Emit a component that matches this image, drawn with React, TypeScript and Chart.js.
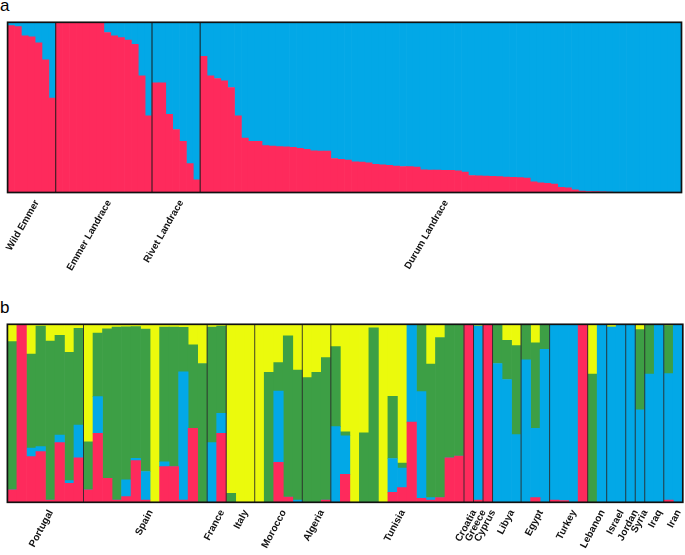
import React, { useEffect, useRef } from "react";
import { Chart, registerables } from "chart.js";

Chart.register(...registerables);

const RED = "#FE2A5C";
const BLUE = "#02A8E7";
const GREEN = "#3D9F45";
const YELLOW = "#EBFA0C";

// ---------- Panel a ----------
const groupNamesA = ["Wild Emmer", "Emmer Landrace", "Rivet Landrace", "Durum Landrace"];
const groupSizesA = [7, 14, 7, 70];

const redA = [
  // Wild Emmer
  0.98, 0.975, 0.92, 0.915, 0.88, 0.78, 0.555,
  // Emmer Landrace
  1, 1, 1, 1, 1, 1, 1, 0.94, 0.92, 0.91, 0.895, 0.87, 0.685, 0.45,
  // Rivet Landrace
  0.645, 0.645, 0.46, 0.37, 0.3, 0.17, 0.075,
  // Durum Landrace
  0.8, 0.685, 0.67, 0.656, 0.617, 0.45, 0.32, 0.3, 0.3, 0.275,
  0.273, 0.27, 0.268, 0.265, 0.26, 0.254, 0.245, 0.244, 0.243, 0.2,
  0.195, 0.19, 0.18, 0.178, 0.175, 0.165, 0.162, 0.16, 0.155, 0.153,
  0.152, 0.15, 0.133, 0.132, 0.131, 0.13, 0.13, 0.128, 0.12, 0.1,
  0.098, 0.096, 0.095, 0.093, 0.091, 0.089, 0.087, 0.085, 0.062, 0.057,
  0.054, 0.05, 0.03, 0.028, 0.015, 0.008, 0.006, 0.005, 0.004, 0.003,
  0, 0, 0, 0, 0, 0, 0, 0, 0, 0,
];

const blueA = [
  // Wild Emmer
  0.02, 0.025, 0.08, 0.085, 0.12, 0.22, 0.445,
  // Emmer Landrace
  0, 0, 0, 0, 0, 0, 0, 0.06, 0.08, 0.09, 0.105, 0.13, 0.315, 0.55,
  // Rivet Landrace
  0.355, 0.355, 0.54, 0.63, 0.7, 0.83, 0.925,
  // Durum Landrace
  0.2, 0.315, 0.33, 0.344, 0.383, 0.55, 0.68, 0.7, 0.7, 0.725,
  0.727, 0.73, 0.732, 0.735, 0.74, 0.746, 0.755, 0.756, 0.757, 0.8,
  0.805, 0.81, 0.82, 0.822, 0.825, 0.835, 0.838, 0.84, 0.845, 0.847,
  0.848, 0.85, 0.867, 0.868, 0.869, 0.87, 0.87, 0.872, 0.88, 0.9,
  0.902, 0.904, 0.905, 0.907, 0.909, 0.911, 0.913, 0.915, 0.938, 0.943,
  0.946, 0.95, 0.97, 0.972, 0.985, 0.992, 0.994, 0.995, 0.996, 0.997,
  1, 1, 1, 1, 1, 1, 1, 1, 1, 1,
];

// ---------- Panel b ----------
const groupNamesB = [
  "Portugal", "Spain", "France", "Italy", "Morocco", "Algeria", "Tunisia",
  "Croatia", "Greece", "Cyprus", "Libya", "Egypt", "Turkey", "Lebanon",
  "Israel", "Jordan", "Syria", "Iraq", "Iran",
];
const groupSizesB = [8, 13, 2, 3, 5, 3, 14, 1, 1, 1, 3, 3, 4, 2, 2, 1, 1, 2, 2];

const redB = [
  0.07, 1, 0.257, 0.285, 0.013, 0.335, 0.107, 0.25, // Portugal
  0.07, 0.388, 0.135, 0.013, 0.032, 0.234, 0.013, 0, 0.2, 0.2, 0.013, 0.416, 0, // Spain
  0, 0.388, // France
  0, 0, 0, // Italy
  0, 0, 0.225, 0.03, 0, // Morocco
  0, 0, 0.013, // Algeria
  0, 0.157, 0, 0, 0, 0, 0.056, 0.082, 0.45, 0.022, 0.013, 0.026, 0.25, 0.26, // Tunisia
  1, 0.013, 1, // Croatia, Greece, Cyprus
  0, 0, 0, // Libya
  0, 0.026, 0, // Egypt
  0.013, 0.01, 0, 1, // Turkey
  0, 0, // Lebanon
  0, 0, // Israel
  0, // Jordan
  0, // Syria
  0, 0, // Iraq
  0.013, 0, // Iran
];

const blueB = [
  0, 0, 0.047, 0.028, 0, 0.043, 0.015, 0.184, // Portugal
  0, 0.206, 0, 0, 0.094, 0.013, 0.16, 0, 0.028, 0, 0.72, 0, 0, // Spain
  0.335, 0.112, // France
  0, 0, 0, // Italy
  0, 0, 0.4, 0, 0.013, // Morocco
  0, 0, 0, // Algeria
  0.425, 0.217, 0, 0, 0, 0, 0.19, 0.11, 0.55, 0.6, 0.013, 0, 0, 0, // Tunisia
  0, 0.977, 0, // Croatia, Greece, Cyprus
  0.78, 0.69, 0.38, // Libya
  0.8, 0.39, 0.86, // Egypt
  0.982, 0.99, 0.995, 0, // Turkey
  0, 1, // Lebanon
  0.985, 1, // Israel
  0.995, // Jordan
  0.52, // Syria
  0.72, 1, // Iraq
  0.71, 1, // Iran
];

const greenB = [
  0.833, 0, 0.528, 0.677, 0.893, 0.56, 0.72, 0.543, // Portugal
  0.27, 0.356, 0.84, 0.972, 0.86, 0.74, 0.8, 0, 0.757, 0.785, 0.25, 0.468, 0.78, // Spain
  0.65, 0.49, // France
  0.05, 0, 0, // Italy
  0, 0.73, 0.16, 0.905, 0.73, // Morocco
  0.7, 0.73, 0.8, // Algeria
  0.45, 0.022, 0, 0.39, 0.98, 0, 0.35, 0.028, 0, 0.378, 0.75, 0.9, 0.75, 0.74, // Tunisia
  0, 0, 0, // Croatia, Greece, Cyprus
  0.22, 0.22, 0.5, // Libya
  0.2, 0.48, 0.14, // Egypt
  0.005, 0, 0.005, 0, // Turkey
  0.72, 0, // Lebanon
  0, 0, // Israel
  0.005, // Jordan
  0.45, // Syria
  0.28, 0, // Iraq
  0.27, 0, // Iran
];

const yellowB = [
  0.097, 0, 0.168, 0.01, 0.094, 0.062, 0.158, 0.023, // Portugal
  0.66, 0.05, 0.025, 0.015, 0.014, 0.013, 0.027, 1, 0.015, 0.015, 0.017, 0.116, 0.22, // Spain
  0.015, 0.01, // France
  0.95, 1, 1, // Italy
  1, 0.27, 0.215, 0.065, 0.257, // Morocco
  0.3, 0.27, 0.187, // Algeria
  0.125, 0.604, 1, 0.61, 0.02, 1, 0.404, 0.78, 0, 0, 0.224, 0.074, 0, 0, // Tunisia
  0, 0.01, 0, // Croatia, Greece, Cyprus
  0, 0.09, 0.12, // Libya
  0, 0.104, 0, // Egypt
  0, 0, 0, 0, // Turkey
  0.28, 0, // Lebanon
  0.015, 0, // Israel
  0, // Jordan
  0.03, // Syria
  0, 0, // Iraq
  0.007, 0, // Iran
];

const FONT_FAMILY = '"Liberation Sans", Arial, Helvetica, sans-serif';

const structurePlugin = {
  id: "structureFrame",
  afterDatasetsDraw(chart: any, _args: any, opts: any) {
    const { ctx, chartArea: a, scales } = chart;
    const x = scales.x;
    ctx.save();
    // group separators
    ctx.strokeStyle = opts.sepColor;
    ctx.lineWidth = opts.sepWidth;
    let idx = 0;
    opts.sizes.forEach((s: number, k: number) => {
      if (k > 0) {
        const px = x.getPixelForValue(idx - 0.5);
        ctx.beginPath();
        ctx.moveTo(px, a.top);
        ctx.lineTo(px, a.bottom);
        ctx.stroke();
      }
      idx += s;
    });
    // frame
    ctx.strokeStyle = opts.frameColor;
    ctx.lineWidth = opts.frameWidth;
    ctx.strokeRect(a.left, a.top, a.right - a.left, a.bottom - a.top);
    // group labels
    ctx.fillStyle = "#111";
    ctx.font = opts.font;
    ctx.textAlign = "right";
    ctx.textBaseline = "top";
    idx = 0;
    opts.sizes.forEach((s: number, k: number) => {
      const c = idx + (s - 1) / 2;
      const px = x.getPixelForValue(c);
      ctx.save();
      ctx.translate(px + opts.dx, a.bottom + opts.dy);
      ctx.rotate((-opts.angle * Math.PI) / 180);
      ctx.fillText(opts.names[k], 0, 0);
      ctx.restore();
      idx += s;
    });
    ctx.restore();
  },
};

function makeDataset(label: string, data: number[], color: string) {
  return {
    label,
    data,
    backgroundColor: color,
    borderWidth: 0,
    barPercentage: 1,
    categoryPercentage: 1,
    stack: "q",
  };
}

function makeConfig(labels: string[], datasets: any[], padding: any, pluginOpts: any): any {
  return {
    type: "bar",
    data: { labels, datasets },
    plugins: [structurePlugin],
    options: {
      responsive: false,
      animation: false,
      events: [],
      layout: { padding },
      scales: {
        x: { stacked: true, display: false },
        y: { stacked: true, display: false, min: 0, max: 1 },
      },
      plugins: {
        legend: { display: false },
        tooltip: { enabled: false },
        structureFrame: pluginOpts,
      },
    },
  };
}

export default function App() {
  const refA = useRef<HTMLCanvasElement>(null);
  const refB = useRef<HTMLCanvasElement>(null);

  useEffect(() => {
    const labelsA = redA.map((_, i) => String(i + 1));
    const labelsB = redB.map((_, i) => String(i + 1));
    const chartA = new Chart(
      refA.current as HTMLCanvasElement,
      makeConfig(
        labelsA,
        [makeDataset("K1", redA, RED), makeDataset("K2", blueA, BLUE)],
        { left: 7.6, right: 3.5, top: 22.3, bottom: 97.5 },
        {
          sizes: groupSizesA,
          names: groupNamesA,
          sepColor: "#1a1a1a",
          sepWidth: 1,
          frameColor: "#111",
          frameWidth: 1.7,
          font: `bold 9.8px ${FONT_FAMILY}`,
          angle: 60,
          dx: 1,
          dy: 6,
        }
      )
    );
    const chartB = new Chart(
      refB.current as HTMLCanvasElement,
      makeConfig(
        labelsB,
        [
          makeDataset("K1", redB, RED),
          makeDataset("K2", blueB, BLUE),
          makeDataset("K3", greenB, GREEN),
          makeDataset("K4", yellowB, YELLOW),
        ],
        { left: 7.4, right: 2.2, top: 34.3, bottom: 52.7 },
        {
          sizes: groupSizesB,
          names: groupNamesB,
          sepColor: "#2a2a2a",
          sepWidth: 0.9,
          frameColor: "#111",
          frameWidth: 1.7,
          font: `bold 10px ${FONT_FAMILY}`,
          angle: 62,
          dx: 1,
          dy: 6,
        }
      )
    );
    return () => {
      chartA.destroy();
      chartB.destroy();
    };
  }, []);

  return (
    <div
      style={{
        position: "absolute",
        left: 0,
        top: 0,
        width: 685,
        height: 555,
        background: "#fff",
        fontFamily: FONT_FAMILY,
        overflow: "hidden",
      }}
    >
      <div style={{ position: "absolute", left: 0, top: -2.7, fontSize: 17, lineHeight: 1, color: "#000" }}>a</div>
      <div style={{ position: "absolute", left: 0, top: 298.6, fontSize: 17, lineHeight: 1, color: "#000" }}>b</div>
      <canvas
        ref={refA}
        width={685}
        height={290}
        style={{ position: "absolute", left: 0, top: 0, width: 685, height: 290 }}
      />
      <canvas
        ref={refB}
        width={685}
        height={265}
        style={{ position: "absolute", left: 0, top: 290, width: 685, height: 265 }}
      />
    </div>
  );
}
